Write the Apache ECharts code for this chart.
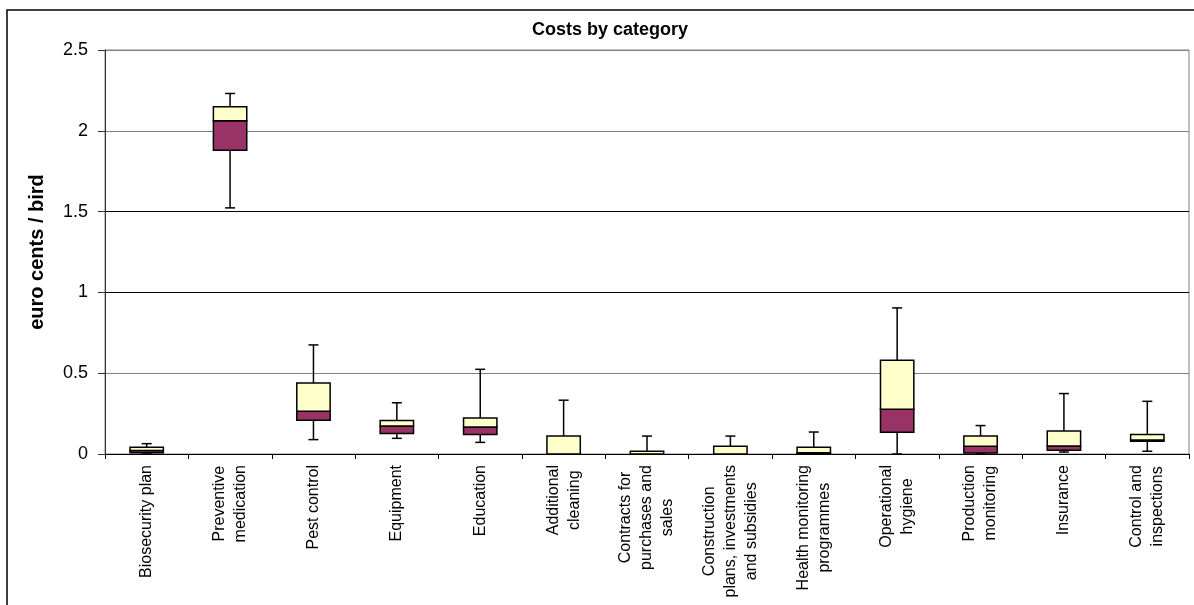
<!DOCTYPE html>
<html>
<head>
<meta charset="utf-8">
<script src="https://cdn.jsdelivr.net/npm/echarts@6/dist/echarts.min.js"></script>
<style>
html,body{margin:0;padding:0;background:#fff;}
#chart{width:1194px;height:605px;}
</style>
</head>
<body>
<div id="chart"></div>
<script>
const categories = [
  'Biosecurity plan',
  'Preventive\nmedication',
  'Pest control',
  'Equipment',
  'Education',
  'Additional\ncleaning',
  'Contracts for\npurchases and\nsales',
  'Construction\nplans, investments\nand subsidies',
  'Health monitoring\nprogrammes',
  'Operational\nhygiene',
  'Production\nmonitoring',
  'Insurance',
  'Control and\ninspections'
];
const minVals    = [0,     1.523, 0.089, 0.097, 0.072, 0, 0, 0, 0, 0,     0,     0.012, 0.017];
const q1Vals     = [0.008, 1.880, 0.209, 0.127, 0.120, 0, 0, 0, 0, 0.134, 0.006, 0.023, 0.079];
const medianVals = [0.022, 2.062, 0.264, 0.173, 0.167, 0, 0, 0, 0.008, 0.277, 0.048, 0.050, 0.086];
const q3Vals     = [0.042, 2.149, 0.440, 0.208, 0.223, 0.111, 0.017, 0.048, 0.041, 0.580, 0.111, 0.142, 0.120];
const maxVals    = [0.064, 2.231, 0.675, 0.317, 0.524, 0.333, 0.111, 0.111, 0.136, 0.904, 0.176, 0.374, 0.326];
const yTicks = [0, 0.5, 1, 1.5, 2, 2.5];

const FONT = 'Liberation Sans, Arial, sans-serif';
const boxData = categories.map((c, i) => [i, minVals[i], q1Vals[i], medianVals[i], q3Vals[i], maxVals[i]]);

function renderBox(params, api) {
  const i = api.value(0);
  const vmin = api.value(1), q1 = api.value(2), med = api.value(3), q3 = api.value(4), vmax = api.value(5);
  const bw = api.size([1, 0])[0] * 0.4;
  const cx = api.coord([i, 0])[0];
  const y = v => api.coord([i, v])[1];
  const capW = 10;
  const lineStyle = { stroke: '#000', lineWidth: 1.5, fill: null };
  const children = [];
  if (vmax > q3) {
    children.push({ type: 'line', shape: { x1: cx, y1: y(q3), x2: cx, y2: y(vmax) }, style: lineStyle });
    children.push({ type: 'line', shape: { x1: cx - capW / 2, y1: y(vmax), x2: cx + capW / 2, y2: y(vmax) }, style: lineStyle });
  }
  if (vmin < q1) {
    children.push({ type: 'line', shape: { x1: cx, y1: y(q1), x2: cx, y2: y(vmin) }, style: lineStyle });
    children.push({ type: 'line', shape: { x1: cx - capW / 2, y1: y(vmin), x2: cx + capW / 2, y2: y(vmin) }, style: lineStyle });
  }
  children.push({ type: 'rect', shape: { x: cx - bw / 2, y: y(med), width: bw, height: y(q1) - y(med) },
    style: { fill: '#993366', stroke: '#000', lineWidth: 1.5 } });
  children.push({ type: 'rect', shape: { x: cx - bw / 2, y: y(q3), width: bw, height: y(med) - y(q3) },
    style: { fill: '#FFFFCC', stroke: '#000', lineWidth: 1.5 } });
  return { type: 'group', children: children };
}

const chart = echarts.init(document.getElementById('chart'));
chart.setOption({
  animation: false,
  backgroundColor: '#fff',
  title: {
    text: 'Costs by category',
    left: 610, top: 21, padding: 0, textAlign: 'center',
    textStyle: { fontFamily: FONT, fontSize: 18, fontWeight: 'bold', color: '#000' }
  },
  graphic: [{
    type: 'rect', silent: true, z: 100,
    shape: { x: 7, y: 10, width: 1200, height: 610 },
    style: { fill: null, stroke: '#000', lineWidth: 1.5 }
  }],
  grid: { left: 105, right: 5, top: 50, bottom: 151, show: true, borderColor: '#808080', borderWidth: 1, backgroundColor: 'transparent' },
  xAxis: {
    type: 'category',
    data: categories,
    boundaryGap: true,
    axisLine: { lineStyle: { color: '#000', width: 1 } },
    axisTick: { show: true, length: 5, lineStyle: { color: '#000' } },
    splitLine: { show: false },
    axisLabel: {
      interval: 0, rotate: 90, margin: 11,
      fontFamily: FONT, fontSize: 16, color: '#000',
      formatter: v => v.split('\n').map(l => '{c|' + l + '}').join('\n'),
      rich: { c: { align: 'center', fontFamily: FONT, fontSize: 16, lineHeight: 21, color: '#000' } }
    }
  },
  yAxis: {
    type: 'value',
    min: yTicks[0], max: yTicks[yTicks.length - 1], interval: 0.5,
    name: 'euro cents / bird',
    nameLocation: 'middle', nameRotate: 90, nameGap: 58,
    nameTextStyle: { fontFamily: FONT, fontSize: 20, fontWeight: 'bold', color: '#000' },
    axisLine: { show: true, lineStyle: { color: '#333', width: 1 } },
    axisTick: { show: true, inside: false, length: 7, lineStyle: { color: '#333' } },
    axisLabel: { margin: 17, fontFamily: FONT, fontSize: 18, color: '#000' },
    splitLine: { show: true, lineStyle: { color: ['#000', '#808080', '#000', '#000', '#808080', '#808080'], width: 1 } }
  },
  series: [{
    type: 'custom',
    renderItem: renderBox,
    encode: { x: 0, y: [1, 2, 3, 4, 5] },
    data: boxData,
    z: 10
  }]
});
</script>
</body>
</html>
